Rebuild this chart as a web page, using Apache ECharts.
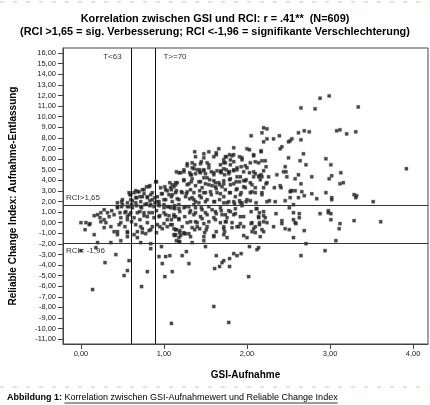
<!DOCTYPE html>
<html>
<head>
<meta charset="utf-8">
<script src="https://cdn.jsdelivr.net/npm/echarts@6/dist/echarts.min.js"></script>
<style>
html,body{margin:0;padding:0;background:#fff;}
#chart{width:430px;height:405px;}
</style>
</head>
<body>
<div id="chart"></div>
<script>
// ---- data ----
const titleLines = [
  "Korrelation zwischen GSI und RCI: r = .41**  (N=609)",
  "(RCI >1,65 = sig. Verbesserung; RCI <-1,96 = signifikante Verschlechterung)"
];
const xAxisName = "GSI-Aufnahme";
const yAxisName = "Reliable Change Index: Aufnahme-Entlassung";
const captionBold = "Abbildung 1:";
const captionText = "Korrelation zwischen GSI-Aufnahmewert und Reliable Change Index";
const xTickValues = [0, 1, 2, 3, 4];
const yTickValues = [-11,-10,-9,-8,-7,-6,-5,-4,-3,-2,-1,0,1,2,3,4,5,6,7,8,9,10,11,12,13,14,15,16];
const tCutoffs = [0.61, 0.885];
const tLabels = ["T<63", "T>=70"];
const rciCutoffs = [1.65, -1.96];
const rciLabels = ["RCI>1,65", "RCI< -1,96"];

// [GSI-Aufnahme, RCI]
const pointsHigh = [
[2.88,11.74],[2.99,11.96],[2.65,10.83],[2.82,10.74],[3.34,10.92],[2.62,8.48],[2.69,8.67],[2.75,8.57],[3.08,8.67],[3.12,8.76],[3.20,8.38],[3.31,8.57],[2.54,7.91],[2.52,7.72],[2.65,7.82],[2.68,6.50],[2.64,5.84],[2.71,5.46],[2.95,6.03],[3.01,5.46],[3.92,5.09],[2.62,4.52],[2.78,4.33],[3.02,4.43],[3.13,4.71],[2.99,4.14],[2.58,4.14],
[2.20,8.95],[2.24,8.85],[2.18,8.48],[2.05,8.20],[2.24,7.91],[2.20,7.63],[2.32,7.91],[2.39,8.20],[2.50,7.63],[2.00,6.97],[2.03,6.88],[1.84,7.07],[1.66,6.97],[1.54,6.69],[2.17,6.78],[2.42,7.16],[2.40,6.97],
[1.79,6.41],[1.82,6.31],[1.74,6.22],[1.60,6.22],[1.63,6.41],[1.48,6.12],[1.38,6.22],[2.08,6.31],[1.91,6.22],[1.94,5.93],[2.10,5.75],[2.14,5.65],[2.18,5.84],[2.50,6.12],[1.72,5.93],[1.80,5.93],[1.84,5.75],[1.74,5.65],[1.68,5.46],[1.52,5.65],[1.44,5.56],[1.37,5.46],[1.28,5.37],[1.20,4.71],[1.15,4.80],
[2.04,5.65],[1.93,5.28],[2.00,5.18],[2.23,5.28],[2.46,5.28],[2.44,4.80],[1.88,4.99],[1.96,4.80],[1.72,5.09],[1.75,4.99],[1.64,4.90],[1.54,5.18],[1.48,4.90],[1.40,4.99],[1.34,5.18],[1.32,4.52],[1.38,4.62],[1.44,4.71],[1.60,4.52],[1.69,4.71],[1.79,4.80],[2.08,4.80],[2.14,4.33],[2.17,4.52],[2.26,4.33],[2.48,4.33],[2.36,4.52],[1.88,4.33],
[1.37,6.69],[1.48,6.50],[1.63,6.59],[1.75,6.22],[1.84,6.41],[1.94,6.12],[2.08,6.41],[2.17,6.69],[2.22,5.84],[1.34,5.65],[1.45,5.75],[1.54,5.46],[1.72,5.65],[1.80,5.46],[1.88,5.18],[1.98,5.37],[1.36,5.09],[1.43,4.99],[1.50,4.62],[1.60,4.71],[1.69,4.90],[1.78,4.62],[1.84,4.90],[2.10,4.62],[2.20,4.90],[1.28,5.56],[1.24,4.80],[1.31,4.71]
];
const pointsUpperBand = [
[3.12,3.67],[3.16,3.77],[2.65,3.67],[2.53,3.01],[2.58,3.01],[2.66,2.92],[2.78,2.73],[2.95,2.83],[2.62,2.36],[2.69,2.54],[2.84,2.26],[3.02,2.36],[3.02,2.17],[3.29,2.64],[3.32,2.54],[3.31,2.36],[3.52,1.98],[2.52,2.36],
[1.18,4.71],[1.24,4.99],[1.33,4.52],[1.43,4.80],[1.48,4.99],[1.57,4.80],[1.68,4.80],[1.73,4.52],[1.78,4.80],[1.84,4.99],[2.03,4.71],[2.08,4.33],[2.15,4.43],[2.18,4.33],[2.23,3.67],[2.47,4.80],
[1.10,3.58],[1.14,3.77],[1.24,3.96],[1.30,3.67],[1.42,3.86],[1.48,4.24],[1.50,3.67],[1.55,4.05],[1.58,3.49],[1.62,3.77],[1.67,3.58],[1.72,3.67],[1.79,4.05],[1.84,3.67],[1.91,3.86],[1.96,3.96],[1.99,4.05],[2.06,3.58],[2.10,3.30],[2.20,3.30],[2.33,3.30],[2.40,3.49],[2.41,3.30],[2.54,3.01],
[1.09,3.11],[1.15,3.01],[1.22,2.83],[1.28,2.92],[1.36,2.83],[1.43,3.01],[1.48,2.83],[1.56,2.92],[1.63,3.20],[1.68,2.73],[1.74,3.11],[1.80,2.83],[1.87,3.11],[1.93,2.83],[1.98,3.30],[2.00,2.17],[2.06,2.92],[2.10,2.83],[2.18,2.64],[2.27,2.07],[2.34,1.98],[2.46,2.07],[2.52,2.92],
[1.09,2.45],[1.16,2.26],[1.26,2.45],[1.31,2.26],[1.38,1.98],[1.45,2.36],[1.52,2.17],[1.60,1.98],[1.67,2.17],[1.72,1.88],[1.78,1.98],[1.85,1.79],[1.91,2.07],[1.94,1.88],[1.99,1.98],[2.04,2.07],
[0.91,3.86],[0.83,3.49],[0.79,3.39],[0.74,3.11],[0.68,2.92],[0.64,2.83],[0.59,2.64],[0.60,2.17],[0.71,2.45],[0.76,2.73],[0.80,2.45],[0.84,2.64],[0.89,2.36],[0.92,1.98],[1.01,3.39],[1.07,3.77],[1.14,3.58],[1.04,3.01],[1.10,2.64],[0.97,2.73],[0.66,2.36],[0.72,1.98],[0.83,2.07],[0.49,1.98],[0.44,1.88],[0.89,1.88],[1.00,2.17],[0.56,1.88],[0.66,1.88],
[1.24,4.05],[1.28,3.58],[1.33,3.86],[1.16,3.77],[1.12,3.39],[1.08,3.30],[1.02,3.11],[0.96,3.30],[0.90,3.86],[0.82,3.39],[0.76,3.11],[0.70,2.92],[0.66,3.01],[0.60,2.64],[0.58,2.83],[0.50,2.17],[0.86,2.83],[0.92,2.45],[0.98,2.73],[1.06,2.64],[1.14,2.83],[1.21,2.92],[1.27,2.73],[1.32,3.11],[1.34,2.36],[1.18,2.17],[1.10,1.98],[1.02,2.17],[0.94,1.98],[0.86,2.17],[0.80,2.36],[0.74,2.45],[0.67,2.36],[0.62,2.07],
[1.34,4.14],[1.44,3.86],[1.52,4.24],[1.60,3.96],[1.66,3.77],[1.72,3.96],[1.80,4.14],[1.87,3.86],[1.92,4.33],[1.98,3.96],[2.04,3.77],[2.16,4.05],[2.24,3.77],[1.38,3.49],[1.46,3.30],[1.54,3.58],[1.62,3.39],[1.70,3.39],[1.80,3.58],[1.88,3.20],[1.96,3.39],[2.04,2.83],[2.18,2.83],[1.43,2.54],[1.50,2.83],[1.57,2.64],[1.64,2.83],[1.72,2.45],[1.79,2.83],[1.86,2.45],[1.92,2.64],[1.36,2.17],[1.42,1.88],[1.50,1.98],[1.61,1.98],[1.76,1.88],[1.84,1.98],[1.92,1.88],[2.11,1.88],[2.24,1.98]
];
const pointsMiddle = [
[2.56,1.70],[2.56,0.94],[2.63,0.85],[2.63,0.47],[2.88,0.85],[2.98,1.13],[2.98,0.94],[3.01,0.85],[2.56,0.28],[2.59,-0.09],[3.01,0.28],[3.12,-0.09],[3.11,-0.57],[3.29,0.19],[3.61,0.09],[2.69,-0.75],[2.56,-1.41],[3.07,-1.70],[2.71,-1.98],
[1.08,1.41],[1.13,1.32],[1.19,1.04],[1.26,1.51],[1.32,1.13],[1.38,0.94],[1.45,1.41],[1.50,0.94],[1.58,1.22],[1.63,0.85],[1.69,1.13],[1.74,0.75],[1.80,1.04],[1.86,0.85],[1.92,0.57],[2.05,1.04],[2.11,1.32],[2.15,0.94],[2.20,0.66],[2.35,0.85],[2.51,1.41],
[1.12,0.57],[1.18,0.28],[1.25,0.57],[1.32,0.09],[1.40,0.00],[1.46,0.38],[1.54,0.09],[1.62,0.28],[1.68,0.00],[1.72,-0.38],[1.75,0.09],[1.82,0.00],[1.90,-0.38],[1.96,-0.38],[2.05,-0.09],[2.10,-0.38],[2.14,0.47],[2.15,0.00],[2.20,0.09],[2.24,0.00],[2.32,-0.38],[2.42,0.19],[2.42,-0.09],[2.46,-0.57],[2.51,-0.66],[2.58,0.00],
[1.12,-0.57],[1.19,-0.75],[1.24,-0.94],[1.30,-1.04],[1.37,-0.66],[1.43,-0.57],[1.49,-0.94],[1.52,-0.38],[1.60,-1.22],[1.63,-0.85],[1.73,-0.85],[1.76,-1.41],[1.82,-0.47],[1.96,-1.22],[2.00,-1.41],[2.06,-0.85],[2.10,-0.94],[2.20,-0.85],[1.12,-1.13],[1.18,-1.41],[1.15,-1.70],[1.24,-1.04],[1.34,-1.88],[1.48,-1.70],
[0.58,1.51],[0.62,1.41],[0.67,1.60],[0.72,1.51],[0.77,1.70],[0.83,1.60],[0.88,1.51],[0.94,1.60],[1.00,1.70],[1.04,1.51],[1.13,1.60],[1.18,1.32],[0.49,1.51],[0.44,1.41],[0.37,1.13],[0.32,0.94],[0.28,1.22],[0.24,0.94],[0.20,0.75],[0.16,0.66],[0.23,0.47],[0.28,0.28],[0.34,0.57],[0.40,0.75],[0.47,0.94],[0.53,0.94],[0.56,0.57],[0.60,0.94],[0.64,0.47],[0.68,0.94],[0.71,0.28],[0.76,0.94],[0.80,0.57],[0.86,0.94],[0.91,1.13],[0.95,0.66],[1.00,0.94],[1.06,0.66],[1.09,0.28],[1.14,0.57],
[0.06,0.00],[0.11,-0.09],[0.00,0.00],[0.05,-0.66],[0.16,-1.13],[0.28,-0.47],[0.36,-0.38],[0.40,-0.85],[0.44,-0.85],[0.48,0.00],[0.53,-0.38],[0.56,-0.85],[0.64,-1.13],[0.68,-0.85],[0.74,-0.57],[0.78,-1.04],[0.82,-0.75],[0.86,-0.38],[0.91,-0.94],[0.95,-0.38],[1.00,-0.09],[1.04,-0.38],[1.10,-0.19],[1.15,-0.66],[1.19,-0.94],[0.56,-1.32],[0.68,-1.41],[0.72,-1.88],[0.48,-1.70],[0.36,-1.88],[0.20,-1.88],[1.19,-1.79],[1.13,-1.22],[0.10,-0.19],[0.30,0.00],[0.24,0.09],
[0.44,1.51],[0.50,1.70],[0.56,1.51],[0.61,1.70],[0.73,1.41],[0.79,1.79],[0.84,1.70],[0.94,1.70],[1.00,1.41],[1.06,1.51],[1.12,1.41],[1.18,1.70],[1.24,1.41],[1.30,1.51],[1.36,1.70],[0.54,1.04],[0.58,0.75],[0.71,1.04],[0.76,0.66],[0.82,0.94],[0.88,0.47],[0.94,0.57],[1.02,0.75],[1.04,0.28],[1.12,0.75],[1.18,0.38],[1.31,0.94],[0.48,0.47],[0.56,0.28],[0.46,-0.19],[0.61,0.09],[0.66,-0.19],[0.72,-0.38],[0.80,0.00],[0.84,-0.66],[0.92,-0.19],[0.98,-0.57],[1.08,-0.19],[1.14,-0.66],[1.22,-0.38],[1.28,0.00],[1.34,-0.47],[1.14,-1.13],[1.20,-1.22],[1.26,-1.04],[1.32,-1.32],[0.56,-0.94],[0.74,-0.94],[0.44,-1.13],[1.18,-1.79],
[1.38,1.41],[1.46,1.22],[1.54,1.51],[1.62,1.04],[1.68,1.41],[1.78,1.13],[1.86,1.32],[1.94,1.60],[2.12,1.32],[2.20,1.04],[1.36,0.75],[1.44,0.57],[1.52,0.75],[1.60,0.47],[1.70,0.75],[1.76,0.47],[1.84,0.75],[1.96,0.57],[2.14,0.57],[2.22,0.47],[1.38,0.09],[1.48,-0.09],[1.74,0.09],[1.92,-0.09],[2.06,0.00],[2.15,-0.19],[1.40,-0.38],[1.51,-0.66],[1.72,-0.57],[1.88,-0.38],[2.08,-0.57],[2.18,-0.66],[1.48,-1.32],[1.60,-1.32],[1.72,-1.13],[2.16,-1.32]
];
const pointsLow = [
[2.94,-2.64],[2.65,-3.11],[1.50,-2.26],[1.27,-2.73],[1.22,-3.11],[1.30,-3.86],[1.63,-3.11],[1.72,-3.58],[1.70,-3.77],[1.79,-3.39],[1.84,-2.92],[1.88,-3.11],[1.93,-2.92],[2.03,-2.26],[2.12,-2.54],[1.61,-4.33],[1.67,-4.14],[1.79,-4.14],[2.02,-5.09],[1.10,-4.62],[1.60,-7.91],[1.09,-9.51],[1.78,-9.42],
[0.84,-2.45],[0.00,-2.64],[0.18,-2.36],[0.42,-3.01],[0.29,-3.77],[0.58,-3.58],[0.94,-3.20],[1.02,-3.20],[1.07,-3.11],[0.98,-3.86],[0.56,-4.52],[0.52,-4.99],[0.80,-4.62],[1.01,-5.09],[0.73,-6.03],[0.14,-6.31],[0.97,-2.26],[0.84,-1.98],[2.14,-2.36]
];

const allPoints = pointsHigh.concat(pointsUpperBand, pointsMiddle, pointsLow);

// ---- chart ----
const fmt = v => v.toFixed(2).replace('.', ',');
const chart = echarts.init(document.getElementById('chart'), null, {renderer: 'canvas'});
const FONT = 'Liberation Sans, Arial, sans-serif';
const axisColor = '#444';

chart.setOption({
  animation: false,
  title: {
    text: titleLines.join('\n'),
    left: 'center',
    top: 7,
    textStyle: {fontFamily: FONT, fontSize: 10.9, fontWeight: 'bold', color: '#000', lineHeight: 13}
  },
  grid: {left: 62, right: 2, top: 48, bottom: 61, show: true, borderColor: axisColor, borderWidth: 1, backgroundColor: '#fff'},
  xAxis: {
    type: 'value', min: -0.216, max: 4.18,
    name: xAxisName, nameLocation: 'middle', nameGap: 26,
    nameTextStyle: {fontFamily: FONT, fontSize: 10, fontWeight: 'bold', color: '#000'},
    axisLine: {show: true, onZero: false, lineStyle: {color: axisColor, width: 1}},
    axisTick: {show: true, inside: false, length: 5, customValues: xTickValues, lineStyle: {color: axisColor}},
    axisLabel: {customValues: xTickValues, formatter: fmt, fontFamily: FONT, fontSize: 7.5, color: '#222', margin: 6},
    splitLine: {show: false}
  },
  yAxis: {
    type: 'value', min: -11.45, max: 16.48,
    name: yAxisName, nameLocation: 'middle', nameGap: 45, nameRotate: 90,
    nameTextStyle: {fontFamily: FONT, fontSize: 10, fontWeight: 'bold', color: '#000'},
    axisLine: {show: true, onZero: false, lineStyle: {color: axisColor, width: 1}},
    axisTick: {show: true, inside: false, length: 5, customValues: yTickValues, lineStyle: {color: axisColor}},
    axisLabel: {customValues: yTickValues, formatter: fmt, fontFamily: FONT, fontSize: 7.5, color: '#222', margin: 7},
    splitLine: {show: false}
  },
  series: [{
    type: 'scatter',
    data: allPoints,
    symbol: 'rect',
    symbolSize: 3.2,
    itemStyle: {color: '#1a1a1a', borderColor: '#555', borderWidth: 0.4},
    markLine: {
      silent: true, symbol: 'none', label: {show: false},
      data: [
        {xAxis: tCutoffs[0], lineStyle: {color: '#111', width: 1, type: 'solid'}},
        {xAxis: tCutoffs[1], lineStyle: {color: '#111', width: 1, type: 'solid'}},
        {yAxis: rciCutoffs[0], lineStyle: {color: '#333', width: 1.2, type: 'solid'}},
        {yAxis: rciCutoffs[1], lineStyle: {color: '#333', width: 1.2, type: 'solid'}}
      ]
    }
  }]
});

// annotations placed through the axes' scales
const p = (x, y) => chart.convertToPixel({gridIndex: 0}, [x, y]);
const yTop = p(0, 16.48)[1];
const xLeft = p(-0.216, 0)[0];
const annStyle = {fontFamily: FONT, fontSize: 8, fill: '#333'};
const t1 = p(tCutoffs[0], 0)[0], t2 = p(tCutoffs[1], 0)[0];
const r1 = p(0, rciCutoffs[0])[1], r2 = p(0, rciCutoffs[1])[1];

const measure = (text, font) => {
  const c = document.createElement('canvas').getContext('2d');
  c.font = font; return c.measureText(text).width;
};
const capX = 7, capY = 398;
const boldW = measure(captionBold + ' ', 'bold 9px ' + FONT);
const textW = measure(captionText, '9px ' + FONT);

chart.setOption({
  graphic: [
    {type: 'text', x: t1 - 10, y: yTop + 9, style: Object.assign({text: tLabels[0], align: 'right', verticalAlign: 'middle'}, annStyle)},
    {type: 'text', x: t2 + 9, y: yTop + 9, style: Object.assign({text: tLabels[1], align: 'left', verticalAlign: 'middle'}, annStyle)},
    {type: 'text', x: xLeft + 3, y: r1 - 7, style: Object.assign({text: rciLabels[0], align: 'left', verticalAlign: 'middle'}, annStyle)},
    {type: 'text', x: xLeft + 3, y: r2 + 7, style: Object.assign({text: rciLabels[1], align: 'left', verticalAlign: 'middle'}, annStyle)},
    {type: 'line', shape: {x1: 0, y1: 2, x2: 430, y2: 2}, style: {stroke: '#a8d8a0', lineWidth: 1, lineDash: [4, 9]}},
    {type: 'line', shape: {x1: 0, y1: 387, x2: 430, y2: 387}, style: {stroke: '#a8d8a0', lineWidth: 1, lineDash: [4, 9]}},
    {type: 'text', x: capX, y: capY, style: {text: captionBold, fontFamily: FONT, fontSize: 9, fontWeight: 'bold', fill: '#000', verticalAlign: 'middle'}},
    {type: 'text', x: capX + boldW, y: capY, style: {text: captionText, fontFamily: FONT, fontSize: 9, fill: '#000', verticalAlign: 'middle'}},
    {type: 'line', shape: {x1: capX + boldW, y1: capY + 5, x2: capX + boldW + textW, y2: capY + 5}, style: {stroke: '#000', lineWidth: 0.8}}
  ]
});
</script>
</body>
</html>
